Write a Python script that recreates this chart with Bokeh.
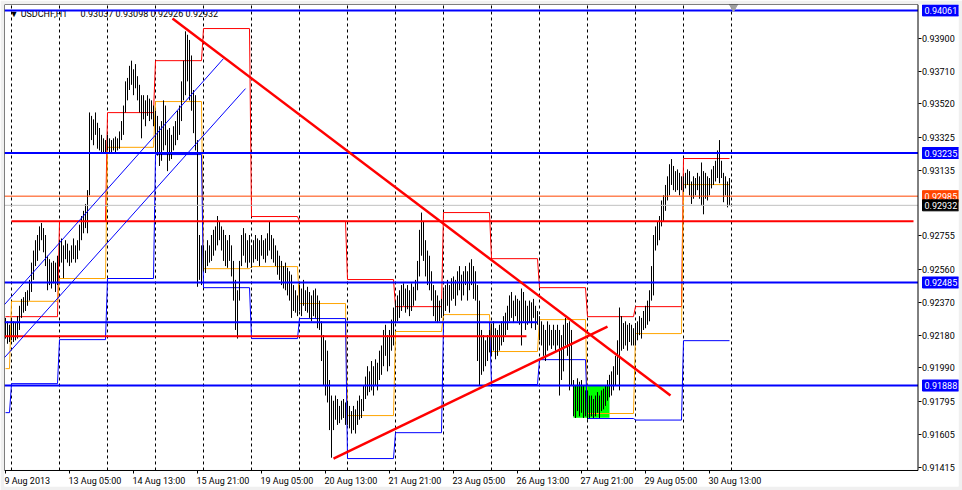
from bokeh.plotting import figure
from bokeh.models import (Range1d, LinearAxis, FixedTicker, Label, LabelSet,
                          PrintfTickFormatter, ColumnDataSource)
from bokeh.core.properties import value
from bokeh.embed import file_html
from bokeh.resources import INLINE

FONT = "Roboto"

symbol_text = "USDCHF,H1"
header_values = ["0.93037", "0.93098", "0.92926", "0.92932"]

# ---- hourly bars (high / low, in pips = 1e-4), 9 Aug 21:00 .. 30 Aug 23:00 ----
bar_high_pips = [
    9228, 9226, 9224,
    9228, 9226, 9225, 9229, 9235, 9239, 9240, 9243, 9244, 9250, 9260, 9267, 9273, 9276, 9281, 9283, 9280, 9276, 9264, 9262, 9260, 9261, 9260, 9264,
    9273, 9274, 9270, 9273, 9271, 9267, 9270, 9274, 9270, 9273, 9282, 9287, 9290, 9294, 9302, 9347, 9345, 9343, 9347, 9341, 9338, 9334, 9332, 9331,
    9334, 9332, 9331, 9332, 9333, 9332, 9336, 9342, 9351, 9365, 9367, 9374, 9377, 9372, 9375, 9368, 9363, 9357, 9357, 9354, 9357, 9355, 9354, 9351,
    9348, 9345, 9339, 9342, 9354, 9351, 9337, 9338, 9334, 9339, 9342, 9348, 9351, 9365, 9377, 9394, 9392, 9389, 9380, 9360, 9357, 9331, 9276, 9270,
    9270, 9267, 9273, 9270, 9276, 9279, 9281, 9287, 9284, 9281, 9279, 9276, 9273, 9276, 9270, 9261, 9250, 9244, 9261, 9276, 9280, 9277, 9273, 9276,
    9270, 9273, 9276, 9274, 9273, 9276, 9273, 9274, 9277, 9284, 9276, 9274, 9270, 9267, 9264, 9261, 9258, 9260, 9257, 9255, 9253, 9247, 9244, 9241,
    9247, 9245, 9250, 9244, 9246, 9243, 9241, 9244, 9245, 9241, 9238, 9226, 9218, 9215, 9209, 9192, 9183, 9180, 9183, 9181, 9177, 9180, 9181, 9179,
    9180, 9177, 9174, 9177, 9175, 9180, 9183, 9181, 9189, 9194, 9200, 9197, 9203, 9200, 9204, 9202, 9209, 9212, 9221, 9224, 9218, 9221, 9227, 9234,
    9238, 9241, 9244, 9247, 9248, 9245, 9247, 9244, 9248, 9246, 9250, 9261, 9279, 9289, 9284, 9273, 9267, 9264, 9255, 9247, 9244, 9241, 9238, 9239,
    9244, 9247, 9250, 9247, 9251, 9252, 9250, 9255, 9258, 9253, 9255, 9258, 9255, 9260, 9262, 9258, 9255, 9247, 9238, 9221, 9218, 9215, 9218, 9221,
    9224, 9226, 9222, 9221, 9224, 9226, 9229, 9231, 9235, 9241, 9243, 9238, 9241, 9239, 9238, 9245, 9243, 9238, 9235, 9238, 9237, 9239, 9235, 9232,
    9229, 9226, 9224, 9221, 9226, 9224, 9221, 9224, 9221, 9224, 9221, 9218, 9224, 9228, 9225, 9226, 9221, 9192, 9189, 9193, 9191, 9192, 9189, 9186,
    9186, 9183, 9183, 9181, 9183, 9185, 9183, 9186, 9187, 9189, 9192, 9195, 9197, 9200, 9206, 9215, 9234, 9229, 9225, 9226, 9224, 9225, 9224, 9222,
    9225, 9226, 9229, 9228, 9232, 9235, 9238, 9244, 9258, 9276, 9281, 9284, 9287, 9296, 9299, 9305, 9310, 9317, 9320, 9316, 9313, 9314, 9312, 9310,
    9310, 9312, 9314, 9313, 9307, 9310, 9309, 9312, 9310, 9318, 9313, 9312, 9310, 9309, 9314, 9316, 9319, 9325, 9331, 9319, 9312, 9310, 9307, 9309,
]
bar_low_pips = [
    9216, 9213, 9214,
    9215, 9214, 9215, 9216, 9221, 9228, 9231, 9232, 9235, 9238, 9243, 9250, 9258, 9261, 9267, 9273, 9266, 9258, 9244, 9247, 9245, 9248, 9243, 9247,
    9258, 9260, 9251, 9262, 9260, 9258, 9260, 9262, 9260, 9262, 9267, 9273, 9277, 9280, 9277, 9299, 9331, 9328, 9334, 9326, 9325, 9324, 9323, 9324,
    9325, 9324, 9323, 9325, 9324, 9325, 9326, 9331, 9334, 9347, 9354, 9360, 9363, 9357, 9361, 9354, 9347, 9332, 9343, 9339, 9345, 9342, 9343, 9339,
    9325, 9322, 9316, 9319, 9325, 9328, 9313, 9319, 9320, 9325, 9328, 9331, 9334, 9342, 9354, 9357, 9365, 9354, 9348, 9335, 9325, 9246, 9250, 9247,
    9255, 9254, 9258, 9260, 9261, 9264, 9267, 9270, 9273, 9267, 9261, 9258, 9257, 9261, 9252, 9238, 9221, 9216, 9238, 9258, 9264, 9260, 9257, 9260,
    9257, 9260, 9262, 9261, 9258, 9264, 9262, 9260, 9264, 9267, 9262, 9260, 9258, 9253, 9250, 9247, 9245, 9244, 9241, 9238, 9228, 9232, 9231, 9229,
    9232, 9229, 9235, 9232, 9231, 9228, 9226, 9229, 9228, 9222, 9221, 9203, 9189, 9183, 9179, 9163, 9147, 9163, 9169, 9166, 9167, 9169, 9170, 9166,
    9166, 9164, 9161, 9163, 9161, 9166, 9169, 9170, 9174, 9181, 9183, 9185, 9186, 9183, 9189, 9186, 9192, 9195, 9200, 9206, 9197, 9200, 9209, 9212,
    9225, 9226, 9228, 9232, 9235, 9231, 9233, 9229, 9232, 9235, 9238, 9244, 9252, 9264, 9261, 9252, 9247, 9244, 9238, 9229, 9226, 9225, 9226, 9228,
    9229, 9232, 9235, 9231, 9238, 9239, 9235, 9241, 9244, 9238, 9241, 9247, 9238, 9244, 9247, 9239, 9238, 9203, 9189, 9195, 9197, 9200, 9203, 9208,
    9206, 9209, 9204, 9206, 9209, 9212, 9214, 9218, 9221, 9226, 9228, 9225, 9229, 9226, 9224, 9212, 9226, 9221, 9224, 9225, 9222, 9228, 9221, 9224,
    9215, 9212, 9206, 9203, 9209, 9212, 9210, 9212, 9209, 9212, 9183, 9192, 9197, 9212, 9206, 9186, 9189, 9171, 9170, 9174, 9171, 9173, 9170, 9171,
    9169, 9170, 9171, 9170, 9171, 9173, 9170, 9174, 9175, 9177, 9180, 9182, 9183, 9186, 9189, 9195, 9186, 9209, 9210, 9212, 9209, 9214, 9212, 9212,
    9212, 9215, 9218, 9216, 9221, 9222, 9224, 9226, 9238, 9241, 9267, 9270, 9273, 9281, 9284, 9290, 9296, 9299, 9305, 9302, 9301, 9302, 9299, 9302,
    9301, 9303, 9305, 9299, 9294, 9297, 9299, 9302, 9297, 9293, 9288, 9297, 9296, 9299, 9303, 9305, 9307, 9309, 9306, 9309, 9295, 9299, 9292, 9293,
]

# ---- trading days (first / last bar index) ----
day_first_bar = [0, 3, 27, 51, 75, 99, 123, 147, 171, 195, 219, 243, 267, 291, 315, 339]
day_last_bar = [2, 26, 50, 74, 98, 122, 146, 170, 194, 218, 242, 266, 290, 314, 338, 362]

# ---- previous-day levels indicator ----
prev_high = [0.92287, 0.92287, 0.92840, 0.93469, 0.93770, 0.93956, 0.92867, 0.92840,
             0.92502, 0.92345, 0.92890, 0.92623, 0.92455, 0.92287, 0.92345, 0.93203]
prev_close = [0.91986, 0.92376, 0.92508, 0.93268, 0.93533, 0.92565, 0.92577, 0.92363,
              0.91714, 0.92201, 0.92299, 0.92085, 0.92270, 0.91726, 0.92189, 0.93052]
prev_low = [0.91731, 0.91899, 0.92154, 0.92508, 0.93226, 0.92455, 0.92160, 0.92276,
            0.91465, 0.91615, 0.92253, 0.91894, 0.92038, 0.91697, 0.91688, 0.92148]

# ---- drawn objects ----
blue_levels = [0.94061, 0.93235, 0.92485, 0.91888]
pivot_level = 0.92985
bid_price = 0.92932

hseg_price = [0.92254, 0.92173, 0.92840]
hseg_color = ["#0000FF", "#FF0000", "#FF0000"]
hseg_bar0 = [-0.5, -0.5, 3]
hseg_bar1 = [266, 260.5, 454]

trend_bar0 = [83.5, 164]
trend_price0 = [0.94014, 0.91465]
trend_bar1 = [332.5, 301]
trend_price1 = [0.91830, 0.92229]

channel_bar0 = [-0.5, -0.5]
channel_price0 = [0.92357, 0.92050]
channel_bar1 = [109, 120]
channel_price1 = [0.93782, 0.93608]

zone_bar = [284, 302]
zone_price = [0.91702, 0.91888]

shift_bar = 364
shift_price = 0.94084

price_ticks = [0.91415, 0.91605, 0.91795, 0.91990, 0.92180, 0.92370, 0.92560,
               0.92755, 0.93135, 0.93325, 0.93520, 0.93710, 0.93900]
time_tick_bars = [0, 32, 64, 96, 128, 160, 192, 224, 256, 288, 320, 352]
time_tick_labels = ["9 Aug 2013", "13 Aug 05:00", "14 Aug 13:00", "15 Aug 21:00",
                    "19 Aug 05:00", "20 Aug 13:00", "21 Aug 21:00", "23 Aug 05:00",
                    "26 Aug 13:00", "27 Aug 21:00", "29 Aug 05:00", "30 Aug 13:00"]

tag_prices = [0.94061, 0.93235, 0.92985, 0.92932, 0.92485, 0.91888]
tag_colors = ["#0000FF", "#0000FF", "#FF4500", "#000000", "#0000FF", "#0000FF"]

# ---- chart window geometry (in data units) ----
X_START = -0.5          # left edge of the window (bar units)
X_END = 476.5           # right edge of the window incl. price scale
AXIS_BAR = 456.25       # where the price scale starts
Y_TOP = 0.940953
Y_BOTTOM = 0.913032     # bottom of window incl. time scale
AXIS_PRICE = 0.913959   # where the time scale starts

# ---------------------------------------------------------------------------
p = figure(frame_width=954, frame_height=482,
           x_range=Range1d(X_START, X_END), y_range=Range1d(Y_BOTTOM, Y_TOP),
           output_backend="svg", toolbar_location=None,
           x_axis_type=None, y_axis_type=None,
           min_border_left=4, min_border_top=4, min_border_right=4, min_border_bottom=4,
           background_fill_color="white", border_fill_color="#F0F0F0",
           outline_line_color=None)

# axes drawn at fixed locations inside the window
xaxis = LinearAxis(ticker=FixedTicker(ticks=time_tick_bars), fixed_location=AXIS_PRICE,
                   major_label_overrides={t: "" for t in time_tick_bars},
                   major_tick_in=0, major_tick_out=3, minor_tick_line_color=None,
                   axis_line_color=None, major_tick_line_color="black",
                   major_label_text_font_size="1px")
p.add_layout(xaxis, "below")
yaxis = LinearAxis(ticker=FixedTicker(ticks=price_ticks), fixed_location=AXIS_BAR,
                   formatter=PrintfTickFormatter(format="%.5f"),
                   major_tick_in=0, major_tick_out=3, minor_tick_line_color=None,
                   axis_line_color=None, major_tick_line_color="black",
                   major_label_text_font=FONT, major_label_text_font_size="9px",
                   major_label_text_color="black", major_label_standoff=1)
p.add_layout(yaxis, "right")

# time labels, left-aligned at their ticks
time_src = ColumnDataSource(dict(x=time_tick_bars, text=time_tick_labels))
p.add_layout(LabelSet(x="x", y=3, y_units="screen", text="text", source=time_src,
                      x_offset=-1, text_align=value("left"), text_baseline=value("alphabetic"),
                      text_font=value(FONT), text_font_size=value("9px"),
                      text_color="black"))

# vertical dashed day separators (only inside the chart area)
grid_ticks = day_first_bar[1:] + [day_last_bar[-1] + 1]
p.segment(x0=grid_ticks, x1=grid_ticks, y0=AXIS_PRICE, y1=Y_TOP,
          line_color="black", line_dash="3 3", line_width=1)

# header text (under the lines)
p.add_layout(Label(x=5, y=473, x_units="screen", y_units="screen",
                   text="\u25BC\u00A0" + symbol_text + "\u00A0" * 5 + " " + " ".join(header_values),
                   text_font=FONT, text_font_size="9px", text_color="black",
                   text_baseline="middle", level="underlay"))

# green zone
p.quad(left=[zone_bar[0]], right=[zone_bar[1]], bottom=[zone_price[0]], top=[zone_price[1]],
       fill_color="#00FF00", line_color=None)


# previous day step lines
def steps(levels):
    xs, ys = [], []
    for a, b, v in zip(day_first_bar, day_last_bar, levels):
        xs += [a, b]
        ys += [v, v]
    return xs, ys


for lev, col in [(prev_high, "#FF0000"), (prev_close, "#FFA500"), (prev_low, "#0000FF")]:
    xs, ys = steps(lev)
    p.line(xs, ys, line_color=col, line_width=1)

# bars
idx = list(range(len(bar_high_pips)))
src = ColumnDataSource(dict(x=idx,
                            hi=[h / 10000 for h in bar_high_pips],
                            lo=[l / 10000 for l in bar_low_pips]))
p.segment(x0="x", x1="x", y0="lo", y1="hi", source=src, line_color="black", line_width=1)

# horizontal lines across the chart area
full_prices = blue_levels + [pivot_level, bid_price]
full_colors = ["#0000FF"] * len(blue_levels) + ["#FF4500", "#C0C0C0"]
full_widths = [2] * len(blue_levels) + [1, 1]
p.segment(x0=[X_START] * len(full_prices), x1=[AXIS_BAR] * len(full_prices),
          y0=full_prices, y1=full_prices, line_color=full_colors, line_width=full_widths)

# partial horizontal lines
p.segment(x0=hseg_bar0, x1=hseg_bar1, y0=hseg_price, y1=hseg_price,
          line_color=hseg_color, line_width=2)

# channel lines
p.segment(x0=channel_bar0, x1=channel_bar1, y0=channel_price0, y1=channel_price1,
          line_color="#0000FF", line_width=1)

# trend lines
p.segment(x0=trend_bar0, x1=trend_bar1, y0=trend_price0, y1=trend_price1,
          line_color="#FF0000", line_width=2.5)

# shift marker
p.scatter([shift_bar], [shift_price], marker="inverted_triangle", size=9,
          fill_color="#A0A0A0", line_color="#A0A0A0")

# chart border
p.quad(left=[X_START], right=[AXIS_BAR], bottom=[AXIS_PRICE], top=[Y_TOP],
       fill_color=None, line_color="black", line_width=1)

# price tags on the right
for pr, col in zip(tag_prices, tag_colors):
    p.add_layout(Label(x=918, y=pr, x_units="screen", y_units="data",
                       text=f"{pr:.5f}", text_font=FONT, text_font_size="9px",
                       text_color="white", text_baseline="middle", text_align="left",
                       background_fill_color=col, background_fill_alpha=1.0,
                       border_line_color=col, padding=2))

open("out.html", "w").write(file_html(p, INLINE))
